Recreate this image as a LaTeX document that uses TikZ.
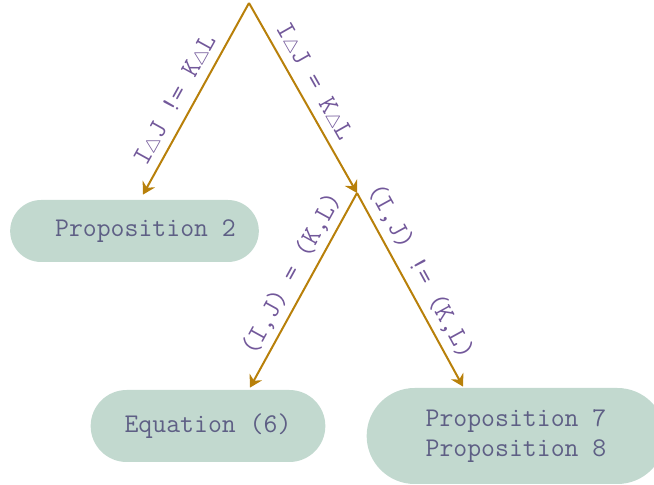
\documentclass[tikz,border=0pt]{standalone}
\usetikzlibrary{arrows.meta,shapes.misc}
\definecolor{branchcol}{HTML}{B8800A}
\definecolor{leaffill}{HTML}{C2D9CF}
\definecolor{leaftext}{HTML}{5E5F85}
\definecolor{condtext}{HTML}{72589A}
\newcommand{\symdiff}{\ensuremath{\scriptstyle\triangle}}
\tikzset{
  leaf/.style={rounded rectangle, fill=leaffill, text=leaftext,
    font=\ttfamily\fontsize{13.5}{15}\selectfont},
  branch/.style={draw=branchcol, line width=1pt, -{Stealth[length=6pt,width=7pt,inset=2pt]}},
  cond/.style={sloped, above, text=condtext, inner sep=3pt,
    font=\ttfamily\fontsize{13.5}{14}\selectfont}
}
\begin{document}
\begin{tikzpicture}[x=0.5pt,y=-0.5pt]
  \useasboundingbox (0,0) rectangle (654,485);
  % split points
  \coordinate (root) at (249,3);
  \coordinate (split) at (357,193);
  % outcomes
  \node[leaf, minimum width=131pt, minimum height=31pt] (prop2) at (134.5,231)
    {\hspace*{11pt}Proposition 2};
  \node[leaf, minimum width=124pt, minimum height=36pt] (eq6) at (208,426) {Equation (6)};
  \node[leaf, minimum width=156pt, minimum height=48pt, align=center] (prop78) at (516,436)
    {Proposition 7\\Proposition 8};
  % branches
  \draw[branch] (root) -- node[cond, pos=0.55] {I\symdiff J != K\symdiff L}
    ([xshift=4.25pt,yshift=2.5pt]prop2.north);
  \draw[branch] (root) -- node[cond, pos=0.46] {I\symdiff J = K\symdiff L} (split);
  \draw[branch] (split) -- node[cond, pos=0.46] {(I,J) = (K,L)}
    ([xshift=21pt,yshift=1pt]eq6.north);
  \draw[branch] (split) -- node[cond, pos=0.45] {(I,J) != (K,L)}
    ([xshift=-26.5pt,yshift=0.5pt]prop78.north);
\end{tikzpicture}
\end{document}
